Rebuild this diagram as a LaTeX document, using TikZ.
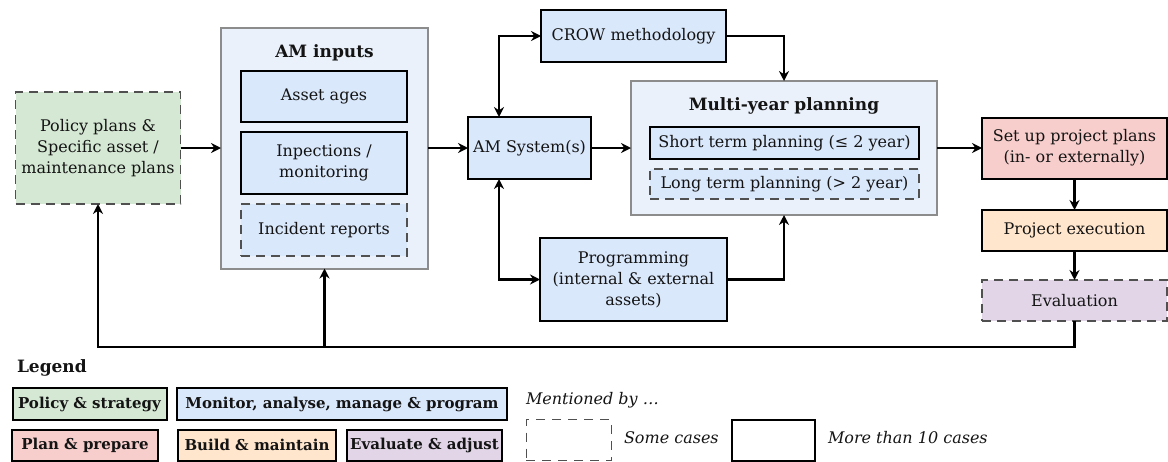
\documentclass[tikz,border=0pt]{standalone}
\usepackage{fontspec}
\setmainfont{DejaVu Serif}
\usetikzlibrary{arrows.meta}
\definecolor{cgreen}{HTML}{D5E8D4}
\definecolor{cblue}{HTML}{DAE8FC}
\definecolor{cpale}{HTML}{EAF1FB}
\definecolor{cred}{HTML}{F8CECC}
\definecolor{corange}{HTML}{FFE6CC}
\definecolor{cpurple}{HTML}{E1D5E7}
\definecolor{cframe}{HTML}{8C8C8C}
\definecolor{cdash}{HTML}{505050}
\definecolor{ctext}{HTML}{141414}
\begin{document}
\begin{tikzpicture}[x=1pt,y=-1pt,
  every node/.style={inner sep=0pt, outer sep=0pt, text=ctext,
    font=\fontsize{16}{21}\selectfont, align=center},
  solidbox/.style={draw=black, line width=2pt},
  dashbox/.style={draw=cdash, line width=1.4pt, dash pattern=on 9pt off 6pt},
  frame/.style={draw=cframe, line width=2pt, fill=cpale},
  title/.style={font=\fontsize{17}{21}\selectfont\bfseries},
  legbox/.style={draw=black, line width=2pt, font=\fontsize{15}{19}\selectfont\bfseries},
  note/.style={anchor=west, font=\fontsize{16}{19}\selectfont\itshape},
  arr/.style={line width=2.2pt, -{Stealth[length=10pt,width=10pt]}},
  dbl/.style={line width=2.2pt, {Stealth[length=10pt,width=10pt]}-{Stealth[length=10pt,width=10pt]}}]
\useasboundingbox (0,0) rectangle (1168,461);

% left column: policy plans and the asset-management inputs
\node[dashbox, fill=cgreen, minimum width=165pt, minimum height=112pt] (pol) at (98,148)
  {Policy plans \&\\Specific asset /\\maintenance plans};
\node[frame, minimum width=207pt, minimum height=241pt] (amin) at (324.5,148) {};
\node[title] (amint) at (324.5,53) {AM inputs};
\node[solidbox, fill=cblue, minimum width=166pt, minimum height=51pt] (age) at (324,96.5) {Asset ages};
\node[solidbox, fill=cblue, minimum width=166pt, minimum height=62pt] (insp) at (324,163) {Inpections /\\monitoring};
\node[dashbox, fill=cblue, minimum width=166pt, minimum height=52pt] (inc) at (324,230) {Incident reports};

% middle: system, methodology and programming
\node[solidbox, fill=cblue, minimum width=123pt, minimum height=62pt] (sys) at (529.5,148) {AM System(s)};
\node[solidbox, fill=cblue, minimum width=185pt, minimum height=52pt] (crow) at (633.5,36) {CROW methodology};
\node[solidbox, fill=cblue, minimum width=187pt, minimum height=83pt] (prog) at (633.5,279.5)
  {Programming\\(internal \& external\\assets)};

% multi-year planning container
\node[frame, minimum width=306pt, minimum height=134pt] (multi) at (784,148) {};
\node[title] (multit) at (784,106) {Multi-year planning};
\node[solidbox, fill=cblue, minimum width=269pt, minimum height=32pt] (short) at (784.5,143) {Short term planning (≤ 2 year)};
\node[dashbox, fill=cblue, minimum width=269pt, minimum height=30pt] (long) at (784.5,184) {Long term planning (> 2 year)};

% right column: project stages
\node[solidbox, fill=cred, minimum width=185pt, minimum height=61pt] (setup) at (1074.5,148) {Set up project plans\\(in- or externally)};
\node[solidbox, fill=corange, minimum width=185pt, minimum height=41pt] (exec) at (1074.5,230.5) {Project execution};
\node[dashbox, fill=cpurple, minimum width=185pt, minimum height=41pt] (eval) at (1074.5,300.5) {Evaluation};

% connectors
\coordinate (sysx) at (499,0);
\coordinate (fb) at (0,347);
\draw[arr] (pol.east) -- (amin.west);
\draw[arr] (amin.east) -- (sys.west);
\draw[arr] (sys.east) -- (multi.west);
\draw[arr] (multi.east) -- (setup.west);
\draw[dbl] (crow.west) -| (sysx |- sys.north);
\draw[dbl] (prog.west) -| (sysx |- sys.south);
\draw[arr] (crow.east) -| (multi.north);
\draw[arr] (prog.east) -| (multi.south);
\draw[arr] (setup.south) -- (exec.north);
\draw[arr] (exec.south) -- (eval.north);
\draw[arr] (eval.south) -- (eval.south |- fb) -| (pol.south);
\draw[arr] (amin.south |- fb) -- (amin.south);

% legend
\node[title, anchor=west] (legt) at (17,368) {Legend};
\node[legbox, fill=cgreen, minimum width=154pt, minimum height=32pt] (l1) at (89.5,404) {Policy \& strategy};
\node[legbox, fill=cblue, minimum width=330pt, minimum height=32pt] (l2) at (342,404) {Monitor, analyse, manage \& program};
\node[legbox, fill=cred, minimum width=146pt, minimum height=31pt] (l3) at (85,445) {Plan \& prepare};
\node[legbox, fill=corange, minimum width=158pt, minimum height=31pt] (l4) at (257,445) {Build \& maintain};
\node[legbox, fill=cpurple, minimum width=155pt, minimum height=31pt] (l5) at (424.5,445) {Evaluate \& adjust};
\node[note] (ment) at (526,400) {Mentioned by \dots};
\node[draw=cdash, line width=1pt, dash pattern=on 9pt off 7pt, minimum width=85pt, minimum height=41pt] (ls) at (568.5,440) {};
\node[note] (lst) at (624,438) {Some cases};
\node[solidbox, minimum width=83pt, minimum height=41pt] (lm) at (773.5,440) {};
\node[note] (lmt) at (828,438) {More than 10 cases};
\end{tikzpicture}
\end{document}
